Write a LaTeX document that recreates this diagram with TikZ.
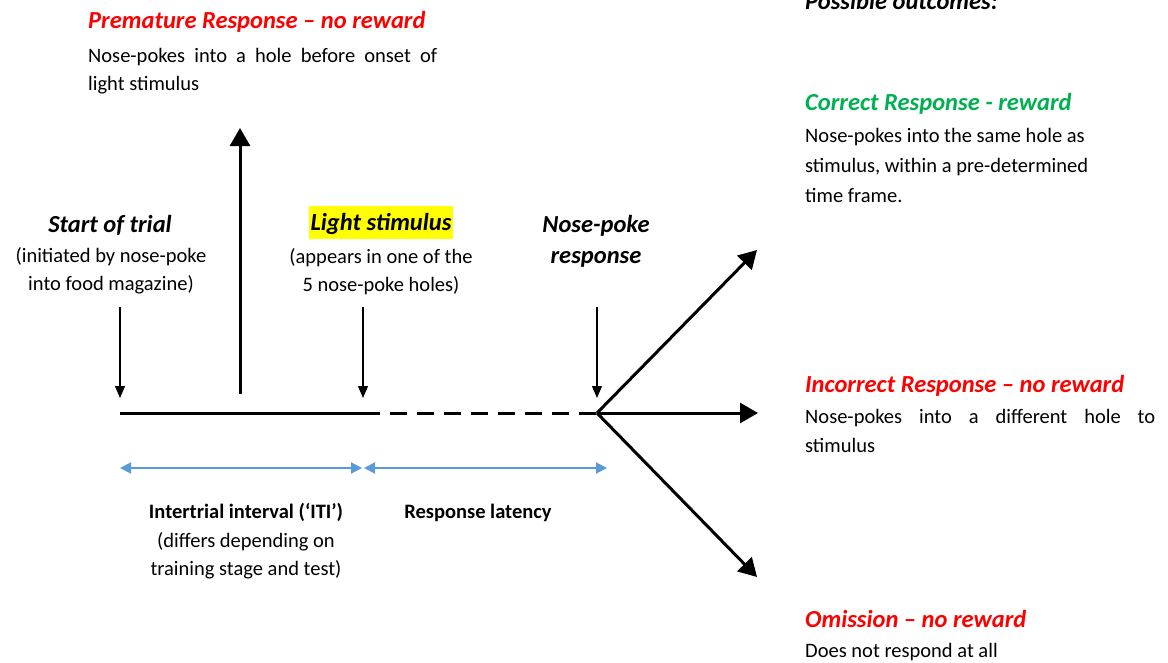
\documentclass[tikz,border=0pt]{standalone}
\usepackage{fontspec}
\setmainfont{Carlito}
\usetikzlibrary{arrows.meta}

\definecolor{outred}{HTML}{FF0000}
\definecolor{outgreen}{HTML}{00B050}
\definecolor{spanblue}{HTML}{5B9BD5}
\definecolor{hilite}{HTML}{FFFF00}

% stacked text lines: left-aligned, centred on the anchor, and justified to a width
\newcommand{\lftline}[1]{\hbox{#1}}
\newcommand{\ctrline}[1]{\hbox to 0pt{\hss#1\hss}}
\newcommand{\jstline}[2]{\hbox{\makebox[#1][s]{#2}}}

\begin{document}
\begin{tikzpicture}[x=1pt,y=-1pt,
  body/.style={inner sep=0pt, font=\fontsize{20.5}{30}\selectfont},
  head/.style={inner sep=0pt, font=\fontsize{24.5}{31}\selectfont\bfseries\itshape},
  lbl/.style={inner sep=0pt, font=\fontsize{20.5}{29}\selectfont\bfseries},
  timeline/.style={line width=3pt},
  bigarrow/.style={line width=3pt, -{Triangle[length=18pt,width=20pt]}},
  cue/.style={line width=1.2pt, -{Triangle[length=12pt,width=10pt]}},
  span/.style={spanblue, line width=2pt,
    {Triangle[length=11pt,width=11pt]}-{Triangle[length=11pt,width=11pt]}},
]
\useasboundingbox (0,0) rectangle (1168,662);
\clip (0,0) rectangle (1168,662);

% ---- timeline points
\coordinate (tstart) at (120,413);
\coordinate (tlight) at (363,413);
\coordinate (tpoke)  at (597,413);

\draw[timeline] (tstart) -- (tlight);
\draw[timeline, dash pattern=on 17pt off 10pt] (tlight) -- (tpoke);

% ---- event cues pointing down onto the timeline
\coordinate (cueA) at (120,307); \coordinate (cueAtip) at (120,398);
\coordinate (cueB) at (363,307); \coordinate (cueBtip) at (363,398);
\coordinate (cueC) at (597,307); \coordinate (cueCtip) at (597,398);
\draw[cue] (cueA) -- (cueAtip);
\draw[cue] (cueB) -- (cueBtip);
\draw[cue] (cueC) -- (cueCtip);

% ---- premature response
\coordinate (premfoot) at (240,394);
\coordinate (premtip)  at (240,128);
\draw[bigarrow] (premfoot) -- (premtip);

% ---- outcome branches
\coordinate (okend)    at (757,250);
\coordinate (wrongend) at (758,413);
\coordinate (omitend)  at (757,577);
\draw[bigarrow] (tpoke) -- (okend);
\draw[bigarrow] (tpoke) -- (wrongend);
\draw[bigarrow] (tpoke) -- (omitend);

% ---- interval spans
\coordinate (itiL) at (120,468); \coordinate (itiR) at (362,468);
\coordinate (latL) at (364,468); \coordinate (latR) at (607,468);
\draw[span] (itiL) -- (itiR);
\draw[span] (latL) -- (latR);

% ---- labels along the timeline
\node[head, anchor=base] (starthead) at (110,232) {Start of trial};
\node[body, anchor=base] (startdesc) at (111,262)
  {\vtop{\baselineskip=28pt\ctrline{(initiated by nose-poke}\ctrline{into food magazine)}}};

\node[head, anchor=base, fill=hilite, text height=20pt, text depth=5pt,
      inner xsep=1.5pt, inner ysep=4pt] (lighthead) at (381,230) {Light stimulus};
\node[body, anchor=base] (lightdesc) at (381,263)
  {\vtop{\baselineskip=28pt\ctrline{(appears in one of the}\ctrline{5 nose-poke holes)}}};

\node[head, anchor=base] (pokehead) at (596,232)
  {\vtop{\ctrline{Nose-poke}\ctrline{response}}};

\node[lbl, anchor=base] (itilabel) at (246,518) {Intertrial interval (‘ITI’)};
\node[body, anchor=base] (itidesc) at (246,547)
  {\vtop{\baselineskip=28pt\ctrline{(differs depending on}\ctrline{training stage and test)}}};
\node[lbl, anchor=base] (latlabel) at (478,518) {Response latency};

% ---- premature response text
\node[head, anchor=base west, text=outred] (premhead) at (88,28)
  {Premature Response – no reward};
\node[body, anchor=base west] (premdesc) at (88,62)
  {\vtop{\baselineskip=28pt\jstline{349pt}{Nose-pokes into a hole before onset of}\lftline{light stimulus}}};

% ---- outcome column
\node[head, anchor=base west] (outcomes) at (805,9) {Possible outcomes:};

\node[head, anchor=base west, text=outgreen] (correcthead) at (805,110)
  {Correct Response - reward};
\node[body, anchor=base west] (correctdesc) at (805,142)
  {\vtop{\lftline{Nose-pokes into the same hole as}\lftline{stimulus, within a pre-determined}\lftline{time frame.}}};

\node[head, anchor=base west, text=outred] (incorrecthead) at (805,392)
  {Incorrect Response – no reward};
\node[body, anchor=base west] (incorrectdesc) at (805,423)
  {\vtop{\baselineskip=29pt\jstline{350pt}{Nose-pokes into a different hole to}\lftline{stimulus}}};

\node[head, anchor=base west, text=outred] (omithead) at (805,627)
  {Omission – no reward};
\node[body, anchor=base west] (omitdesc) at (805,657) {Does not respond at all};
\end{tikzpicture}
\end{document}
